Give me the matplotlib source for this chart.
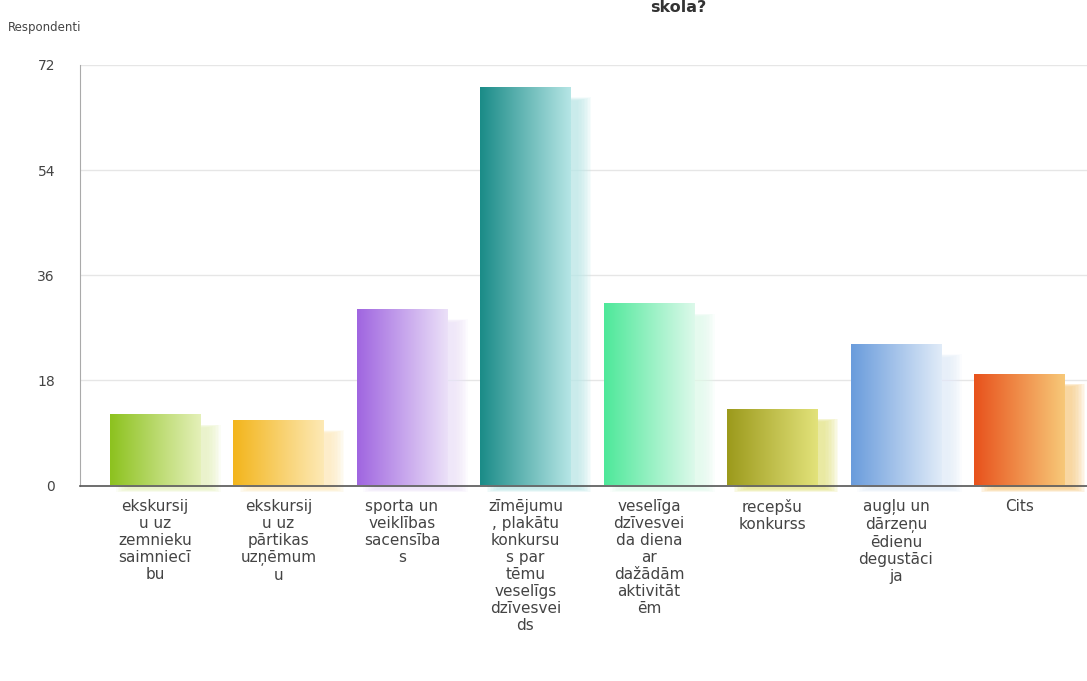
import matplotlib
matplotlib.use("Agg")
import matplotlib.pyplot as plt
import numpy as np
from matplotlib.colors import to_rgb
from matplotlib.patches import Rectangle

# data
categories = [
    "ekskursij\nu uz\nzemnieku\nsaimniecī\nbu",
    "ekskursij\nu uz\npārtikas\nuzņēmum\nu",
    "sporta un\nveiklības\nsacensība\ns",
    "zīmējumu\n, plakātu\nkonkursu\ns par\ntēmu\nveselīgs\ndzīvesvei\nds",
    "veselīga\ndzīvesvei\nda diena\nar\ndažādām\naktivitāt\nēm",
    "recepšu\nkonkurss",
    "augļu un\ndārzeņu\nēdienu\ndegustāci\nja",
    "Cits",
]
respondents = [12, 11, 30, 68, 31, 13, 24, 19]
y_ticks = [0, 18, 36, 54, 72]

left_colors = ["#8dc21f", "#f3b51c", "#a066e0", "#1b8c88",
               "#4ee89a", "#9c9a1c", "#6a9cdc", "#e8521c"]
right_colors = ["#e4f0b8", "#fde9b5", "#ebe0f8", "#b5e5e5",
                "#dcf9ea", "#e2e27a", "#e0ebf8", "#f7c878"]

W, H = 1087, 681
fig = plt.figure(figsize=(W / 100, H / 100), dpi=100)
ax = fig.add_axes([80 / W, 1 - 485.5 / H, 1 - 80 / W, (485.5 - 65) / H])

x = np.arange(len(categories))
bar_w = 0.73

# grid
for t in y_ticks[1:]:
    ax.axhline(t, color="#e6e6e6", lw=1, zorder=0)

# soft shadows, offset to the right and down
dx, dy = 0.11, 1.7
for i, h in enumerate(respondents):
    c = np.array(to_rgb(right_colors[i]))
    pale = c + (1 - c) * 0.1
    x0 = x[i] - bar_w / 2 + dx
    for k in range(10):
        g = k * 0.012
        ax.add_patch(Rectangle((x0 + 0.05 - g, -0.6 - g * 5), bar_w - 0.1 + 2 * g,
                               h - dy - 0.4 + 0.6 + g * 10,
                               facecolor=pale, edgecolor="none", alpha=0.13,
                               zorder=1, clip_on=False))

# gradient bars
n = 64
t = np.linspace(0, 1, n)
for i, h in enumerate(respondents):
    c0 = np.array(to_rgb(left_colors[i]))
    c1 = np.array(to_rgb(right_colors[i]))
    row = c0[None, :] * (1 - t[:, None]) + c1[None, :] * t[:, None]
    img = row[None, :, :]
    x0 = x[i] - bar_w / 2
    ax.imshow(img, extent=[x0, x0 + bar_w, 0, h], aspect="auto",
              interpolation="bilinear", zorder=2)

ax.set_xlim(-0.607, 7.547)
ax.set_ylim(0, 72)

ax.set_yticks(y_ticks)
ax.set_yticklabels([str(v) for v in y_ticks], fontsize=10, color="#444444")
ax.tick_params(axis="y", length=0, pad=18)

ax.set_xticks(x)
ax.set_xticklabels(categories, fontsize=11, color="#444444",
                   linespacing=1.16, multialignment="center")
ax.tick_params(axis="x", length=0, pad=10)

for s in ["top", "right"]:
    ax.spines[s].set_visible(False)
ax.spines["left"].set_color("#aaaaaa")
ax.spines["bottom"].set_color("#555555")
ax.spines["bottom"].set_linewidth(1.2)
ax.spines["left"].set_zorder(3)
ax.spines["bottom"].set_zorder(3)

fig.text(8 / W, 1 - 27 / H, "Respondenti", fontsize=8.5, color="#444444",
         ha="left", va="center")
fig.text(678 / W, 1 - 8 / H, "skola?", fontsize=11.5, fontweight="bold",
         color="#333333", ha="center", va="center")

fig.savefig("out.png", dpi=100)
